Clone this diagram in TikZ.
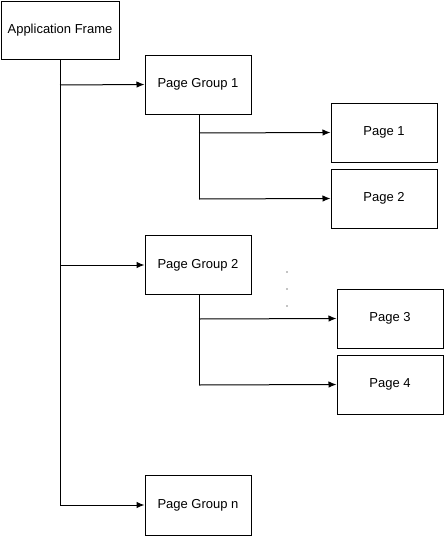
\documentclass[tikz,border=0pt]{standalone}
\usepackage{fontspec}
\setmainfont{Liberation Sans}
\usetikzlibrary{arrows.meta}
\begin{document}
\begin{tikzpicture}[x=1pt,y=-1pt,line width=1pt,
  box/.style={draw,rectangle,minimum width=106pt,minimum height=59pt,inner sep=0pt,font=\fontsize{13}{15}\selectfont},
  conn/.style={-{Latex[length=8pt,width=6.5pt]}}]
\useasboundingbox (0,0) rectangle (446,536);
\node[box,minimum width=118pt,minimum height=58pt] (af) at (60,30) {Application Frame};
\node[box] (pg1) at (198,84.5) {Page Group 1};
\node[box] (pg2) at (198,265) {Page Group 2};
\node[box,minimum height=60pt] (pgn) at (198,505) {Page Group n};
\node[box] (p1) at (384,132.5) {Page 1};
\node[box] (p2) at (384,198.5) {Page 2};
\node[box] (p3) at (390,318.5) {Page 3};
\node[box] (p4) at (390,384.5) {Page 4};
\coordinate (t1) at (60,85);
\coordinate (t2) at (60,265);
\coordinate (tn) at (60,505);
\draw (af.south) -- (tn);
\draw[conn] (t1) -- (pg1.west);
\draw[conn] (t2) -- (pg2.west);
\draw[conn] (tn) -- (pgn.west);
\coordinate (a1) at (199,133);
\coordinate (a2) at (199,199);
\draw (pg1.south -| a1) -- (a2);
\draw[conn] (a1) -- (p1.west);
\draw[conn] (a2) -- (p2.west);
\coordinate (b1) at (199,319);
\coordinate (b2) at (199,385);
\draw (pg2.south -| b1) -- (b2);
\draw[conn] (b1) -- (p3.west);
\draw[conn] (b2) -- (p4.west);
\foreach \i/\yy in {1/272,2/289,3/306} \fill (287,\yy) circle (0.6pt) coordinate (dot\i);
\end{tikzpicture}
\end{document}
